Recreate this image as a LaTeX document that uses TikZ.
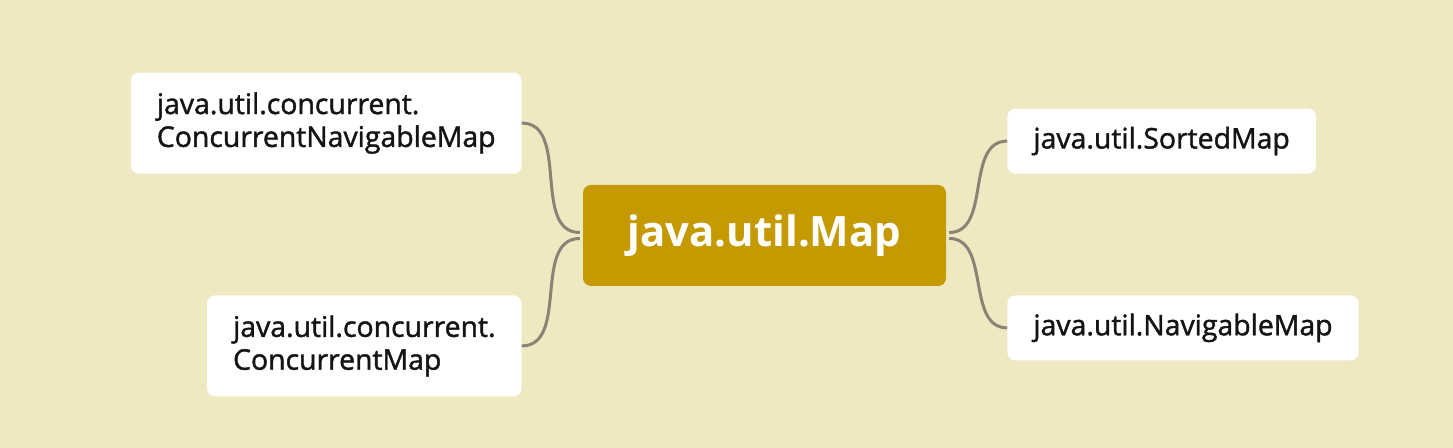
\documentclass[tikz,border=0pt]{standalone}
\usepackage{fontspec}
\setmainfont{Open Sans}
\newfontfamily\semibold{Open Sans}[FakeBold=1.4]
\usepackage{tikz}
\usetikzlibrary{positioning}
\definecolor{mapBg}{RGB}{239, 233, 193}
\definecolor{mapGold}{RGB}{196, 154, 0}
\definecolor{mapLink}{RGB}{140, 130, 118}
\definecolor{mapText}{RGB}{20, 20, 20}

\begin{document}
\begin{tikzpicture}[
      x=1bp, y=1bp,
      root/.style={fill=mapGold, rounded corners=8bp, minimum width=363bp, minimum height=101bp,
        text=white, font=\fontsize{42}{50}\selectfont\bfseries},
      leaf/.style={fill=white, rounded corners=8bp, inner xsep=26bp, align=left, text=mapText,
        font=\fontsize{28.5}{33}\selectfont\semibold},
      link/.style={line width=3bp, mapLink, out=0, in=180}
    ]
      \useasboundingbox (0,0) rectangle (1453,448);
      \fill[mapBg] (-5,-5) rectangle (1458,453);
      \node[root] (map) at (764.5,212.5) {java.util.Map};
      \node[leaf,minimum height=101bp,above left=11bp and 61bp of map] (cnav) {java.util.concurrent.\\ConcurrentNavigableMap};
      \node[leaf,minimum height=101bp,below left=9bp and 61bp of map] (conc) {java.util.concurrent.\\ConcurrentMap};
      \node[leaf,minimum height=65bp,above right=11bp and 61bp of map] (sorted) {java.util.SortedMap};
      \node[leaf,minimum height=65bp,below right=9bp and 61bp of map] (nav) {java.util.NavigableMap};
      \draw[link] (cnav.east) to ([xshift=-3bp,yshift=3bp]map.west);
      \draw[link] (conc.east) to ([xshift=-3bp,yshift=-3bp]map.west);
      \draw[link, out=180, in=0] (sorted.west) to ([xshift=3bp,yshift=3bp]map.east);
      \draw[link, out=180, in=0] (nav.west) to ([xshift=3bp,yshift=-3bp]map.east);
    \end{tikzpicture}
\end{document}
